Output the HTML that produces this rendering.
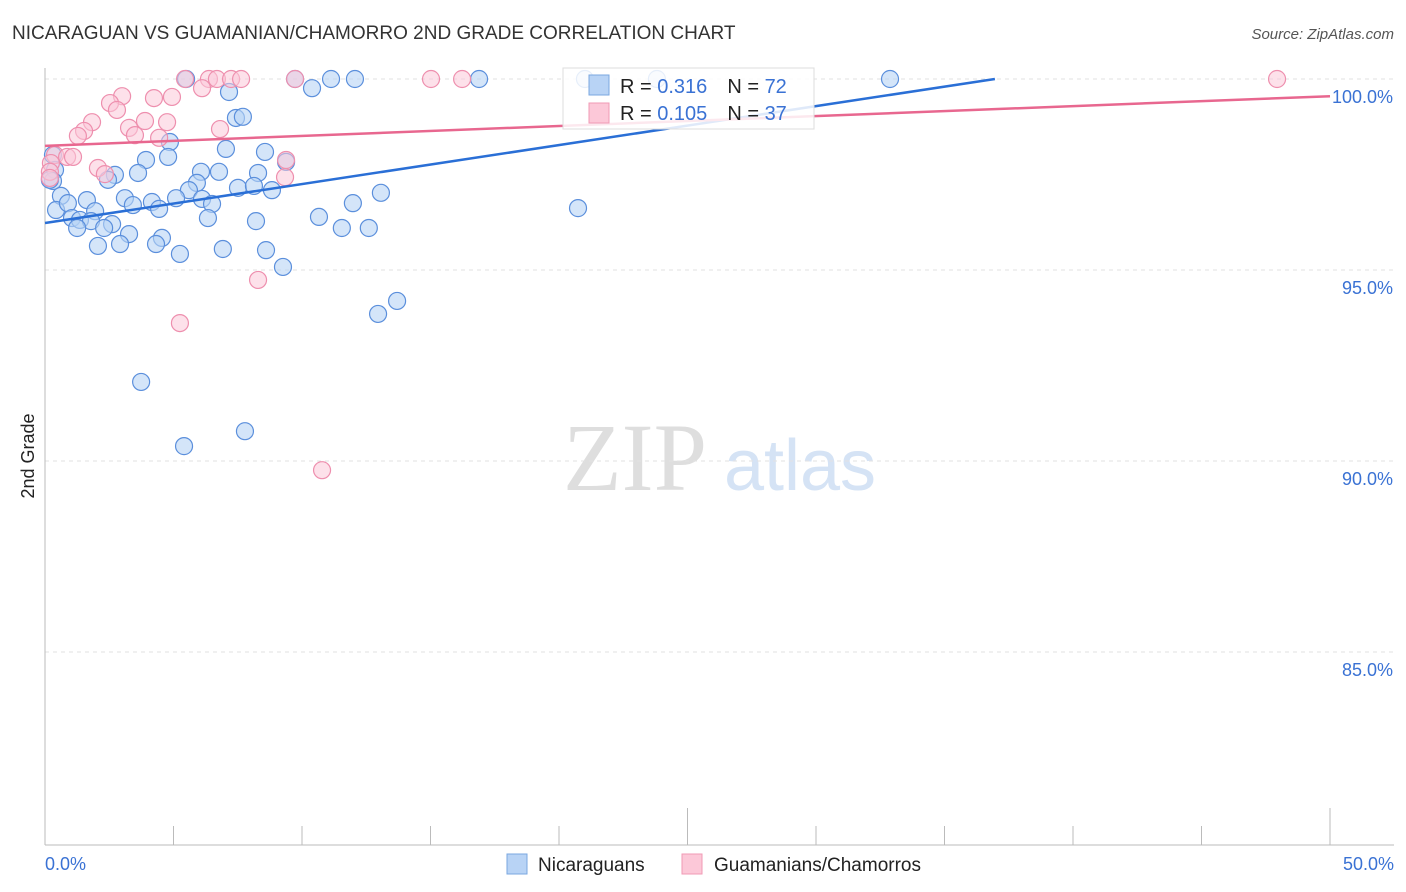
<!DOCTYPE html>
<html><head><meta charset="utf-8"><style>
body{margin:0;background:#fff;font-family:"Liberation Sans",sans-serif;}
#wrap{position:relative;width:1406px;height:892px;overflow:hidden;}
</style></head><body>
<div id="wrap">
<svg id="svg" width="1406" height="892" xmlns="http://www.w3.org/2000/svg">
<text x="12" y="39" font-size="19" fill="#333">NICARAGUAN VS GUAMANIAN/CHAMORRO 2ND GRADE CORRELATION CHART</text>
<text x="1394" y="39" font-size="15" fill="#555" font-style="italic" text-anchor="end">Source: ZipAtlas.com</text>
<text x="34" y="456" font-size="18" fill="#222" text-anchor="middle" transform="rotate(-90 34 456)">2nd Grade</text>
<g>
<text x="635" y="490" font-size="96" fill="#dedede" font-family="Liberation Serif,serif" text-anchor="middle">ZIP</text>
<text x="800" y="490" font-size="72" fill="#d5e3f5" text-anchor="middle">atlas</text>
</g>
<g id="grid"></g><g id="axes"></g><g id="pts"></g><g id="lines"></g>
<g>
<rect x="563" y="68" width="251" height="61" fill="#fff" fill-opacity="0.85" stroke="#ddd"/>
<rect x="589" y="75" width="20" height="20" fill="#b8d3f5" stroke="#7aa7e0"/>
<rect x="589" y="103" width="20" height="20" fill="#fcc8d8" stroke="#f09ab5"/>
<text x="620" y="93" font-size="20" fill="#222">R = <tspan fill="#3a72d4">0.316</tspan><tspan dx="20">N = </tspan><tspan fill="#3a72d4">72</tspan></text>
<text x="620" y="120" font-size="20" fill="#222">R = <tspan fill="#3a72d4">0.105</tspan><tspan dx="20">N = </tspan><tspan fill="#3a72d4">37</tspan></text>
</g>
<g>
<rect x="507" y="854" width="20" height="20" fill="#b8d3f5" stroke="#7aa7e0"/>
<text x="538" y="871" font-size="19" fill="#222">Nicaraguans</text>
<rect x="682" y="854" width="20" height="20" fill="#fcc8d8" stroke="#f09ab5"/>
<text x="714" y="871" font-size="19" fill="#222">Guamanians/Chamorros</text>
</g>
</svg>
</div>
<script>
const yTicks=[100,95,90,85];
const yTickLabels=["100.0%","95.0%","90.0%","85.0%"];
const blueX=[5.49,9.73,11.13,12.06,16.89,21.01,23.81,32.88,10.39,7.16,7.43,7.70,4.86,7.04,8.56,3.93,4.79,0.31,0.39,2.72,3.62,6.07,6.77,8.29,9.38,2.45,0.31,5.91,5.60,7.51,8.13,8.83,13.07,0.62,1.63,3.11,4.16,5.10,6.11,6.50,11.98,20.74,0.43,0.89,3.42,4.44,1.95,1.05,1.36,1.79,2.61,6.34,8.21,10.66,1.25,2.30,3.27,4.55,11.55,12.60,2.06,2.92,4.32,5.25,6.92,8.60,9.26,13.70,12.96,3.74,5.41,7.78,0.19];
const blueY=[100,100,100,100,100,100,100,100,99.76,99.66,98.98,99.01,98.35,98.17,98.09,97.88,97.96,98.01,97.62,97.49,97.54,97.57,97.57,97.54,97.83,97.36,97.33,97.28,97.09,97.15,97.20,97.09,97.02,96.94,96.83,96.88,96.78,96.88,96.86,96.73,96.75,96.62,96.57,96.75,96.70,96.60,96.54,96.36,96.31,96.28,96.20,96.36,96.28,96.39,96.10,96.10,95.94,95.84,96.10,96.10,95.63,95.68,95.68,95.42,95.55,95.52,95.08,94.19,93.85,92.07,90.39,90.78,97.36];
const pinkX=[5.45,6.38,6.69,7.24,7.63,9.73,15.02,16.23,47.94,6.11,3.00,2.53,4.24,4.94,2.80,1.83,1.52,1.28,3.27,3.89,3.50,4.75,4.44,6.81,9.38,9.34,0.39,0.86,1.09,2.06,2.33,0.23,0.19,8.29,5.25,10.78,0.19];
const pinkY=[100,100,100,100,100,100,100,100,100,99.76,99.55,99.37,99.50,99.53,99.19,98.87,98.64,98.51,98.72,98.90,98.53,98.87,98.46,98.69,97.88,97.43,98.01,97.96,97.96,97.67,97.51,97.80,97.57,94.74,93.61,89.76,97.41];
const blueTrend=[96.23,0.102];
const pinkTrend=[98.25,0.026];
const NS="http://www.w3.org/2000/svg";
const X0=45,X1=1330,Y100=79,PPY=38.2;
const sx=v=>X0+(v/50)*(X1-X0);
const sy=v=>Y100+(100-v)*PPY;
function mk(tag,attrs,parent){const e=document.createElementNS(NS,tag);for(const k in attrs)e.setAttribute(k,attrs[k]);parent.appendChild(e);return e;}
const grid=document.getElementById('grid'),axes=document.getElementById('axes'),pts=document.getElementById('pts'),lines=document.getElementById('lines');
yTicks.forEach((t,i)=>{
 const l=mk('line',{x1:X0,x2:1394,y1:sy(t),y2:sy(t),stroke:'#e2e2e2','stroke-dasharray':'4 4'},grid);
 
 
 const tx=mk('text',{x:1393,y:sy(t)+24,'font-size':18,fill:'#3a72d4','text-anchor':'end'},grid);
 tx.textContent=yTickLabels[i];
 
 
});
let a=mk('line',{x1:X0,x2:X0,y1:68,y2:845,stroke:'#bbb'},axes);


a=mk('line',{x1:X0,x2:1394,y1:845,y2:845,stroke:'#bbb'},axes);


for(let v=5;v<=50;v+=5){
 const tall=(v===25||v===50);
 const t=mk('line',{x1:sx(v),x2:sx(v),y1:tall?808:826,y2:845,stroke:'#bbb'},axes);
 
 
}
let xl=mk('text',{x:45,y:870,'font-size':18,fill:'#3a72d4'},axes);xl.textContent='0.0%';


xl=mk('text',{x:1394,y:870,'font-size':18,fill:'#3a72d4','text-anchor':'end'},axes);xl.textContent='50.0%';


blueX.forEach((x,i)=>{
 const c=mk('circle',{cx:sx(x),cy:sy(blueY[i]),r:8.5,fill:'#b8d3f5','fill-opacity':0.6,stroke:'#5b8fdc','stroke-width':1.2},pts);
 
 
});
pinkX.forEach((x,i)=>{
 const c=mk('circle',{cx:sx(x),cy:sy(pinkY[i]),r:8.5,fill:'#fcc8d8','fill-opacity':0.55,stroke:'#ee8fae','stroke-width':1.2},pts);
 
 
});
const bEnd=(100-blueTrend[0])/blueTrend[1];
let ln=mk('line',{x1:sx(0),y1:sy(blueTrend[0]),x2:sx(bEnd),y2:sy(100),stroke:'#2a6fd6','stroke-width':2.5},lines);


ln=mk('line',{x1:sx(0),y1:sy(pinkTrend[0]),x2:sx(50),y2:sy(pinkTrend[0]+pinkTrend[1]*50),stroke:'#e8678f','stroke-width':2.5},lines);


</script>
</body></html>
